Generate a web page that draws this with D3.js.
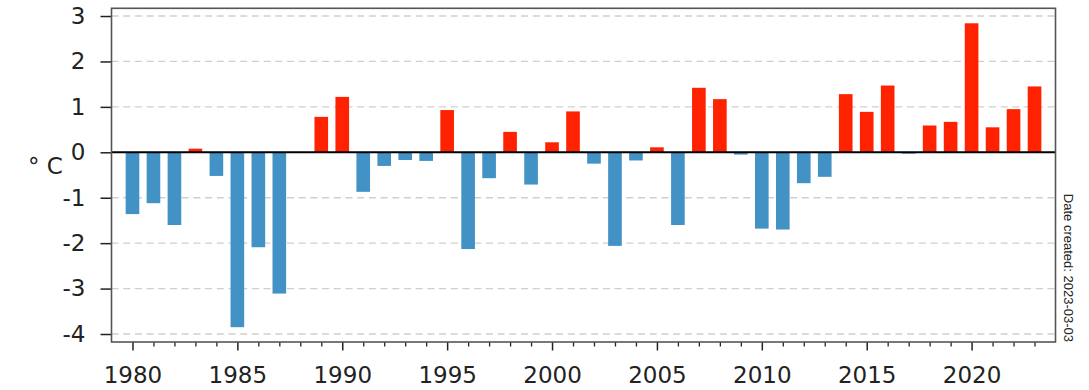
<!DOCTYPE html>
<html>
<head>
<meta charset="utf-8">
<script src="https://cdn.jsdelivr.net/npm/d3@7"></script>
<style>
  html, body { margin: 0; padding: 0; background: #fff; }
  svg { display: block; }
</style>
</head>
<body>
<svg id="chart" width="1089" height="390"></svg>
<script>
const years = d3.range(1980, 2024);
const anomalies = [
  -1.36, -1.12, -1.60, 0.08, -0.52, -3.85, -2.09, -3.11, 0.00, 0.78,
   1.22, -0.87, -0.30, -0.17, -0.19, 0.93, -2.13, -0.57, 0.45, -0.71,
   0.22, 0.90, -0.25, -2.06, -0.18, 0.11, -1.60, 1.42, 1.17, -0.05,
  -1.68, -1.70, -0.68, -0.54, 1.28, 0.89, 1.47, -0.03, 0.59, 0.67,
   2.84, 0.55, 0.95, 1.45
];
const yTicks = [-4, -3, -2, -1, 0, 1, 2, 3];
const xMajorTicks = [1980, 1985, 1990, 1995, 2000, 2005, 2010, 2015, 2020];
const yLabel = "° C";
const noteText = "Date created: 2023-03-03";

(function () {
const data = years.map((yr, i) => ({ year: yr, value: anomalies[i] }));

const svg = d3.select("#chart");
const pLeft = 111.5, pRight = 1055.5, pTop = 8.3, pBottom = 342;

const x = d3.scaleLinear().domain([1979, 2024]).range([pLeft, pRight]);
const y = d3.scaleLinear().domain([-4.176, 3.17]).range([pBottom, pTop]);

const font = "'DejaVu Sans', sans-serif";

// gridlines
svg.append("g").selectAll("line").data(yTicks).join("line")
  .attr("x1", pLeft).attr("x2", pRight)
  .attr("y1", d => y(d)).attr("y2", d => y(d))
  .attr("stroke", "#cfcfcf").attr("stroke-width", 1.3)
  .attr("stroke-dasharray", "7,4.7");

// bars
const bw = 0.65;
svg.append("g").selectAll("rect").data(data).join("rect")
  .attr("x", d => x(d.year - bw / 2))
  .attr("width", x(1980 + bw) - x(1980))
  .attr("y", d => y(Math.max(0, d.value)))
  .attr("height", d => Math.abs(y(d.value) - y(0)))
  .attr("fill", d => d.value > 0 ? "#ff2200" : "#4292c6");

// zero line
svg.append("line")
  .attr("x1", pLeft).attr("x2", pRight)
  .attr("y1", y(0)).attr("y2", y(0))
  .attr("stroke", "#000").attr("stroke-width", 2);

// y axis
const yAxis = svg.append("g")
  .attr("transform", `translate(${pLeft},0)`)
  .call(d3.axisLeft(y).tickValues(yTicks).tickFormat(d => String(d)).tickSize(11).tickPadding(15));
yAxis.select(".domain").remove();
yAxis.selectAll(".tick line").attr("stroke", "#222").attr("stroke-width", 1.5);
yAxis.selectAll(".tick text").attr("font-family", font).attr("font-size", 23).attr("fill", "#222");

// x axis minor ticks
const xMinor = svg.append("g")
  .attr("transform", `translate(0,${pBottom})`)
  .call(d3.axisBottom(x).tickValues(years.filter(v => !xMajorTicks.includes(v))).tickSize(4.5).tickFormat(""));
xMinor.select(".domain").remove();
xMinor.selectAll(".tick line").attr("stroke", "#222").attr("stroke-width", 1.3);

// x axis major ticks
const xAxis = svg.append("g")
  .attr("transform", `translate(0,${pBottom})`)
  .call(d3.axisBottom(x).tickValues(xMajorTicks).tickFormat(d => String(d)).tickSize(8.5).tickPadding(16.5));
xAxis.select(".domain").remove();
xAxis.selectAll(".tick line").attr("stroke", "#222").attr("stroke-width", 1.5);
xAxis.selectAll(".tick text").attr("font-family", font).attr("font-size", 23).attr("fill", "#222");

// frame
svg.append("rect")
  .attr("x", pLeft).attr("y", pTop)
  .attr("width", pRight - pLeft).attr("height", pBottom - pTop)
  .attr("fill", "none").attr("stroke", "#555").attr("stroke-width", 1.6);

// y label
svg.append("text")
  .attr("x", 28).attr("y", 174)
  .attr("font-family", font).attr("font-size", 23).attr("fill", "#222")
  .text(yLabel);

// date note
svg.append("text")
  .attr("transform", `translate(1063.5,${pBottom}) rotate(90)`)
  .attr("text-anchor", "end")
  .attr("font-family", "'Liberation Sans', Arial, sans-serif")
  .attr("font-size", 13).attr("fill", "#222")
  .text(noteText);
})();
</script>
</body>
</html>
